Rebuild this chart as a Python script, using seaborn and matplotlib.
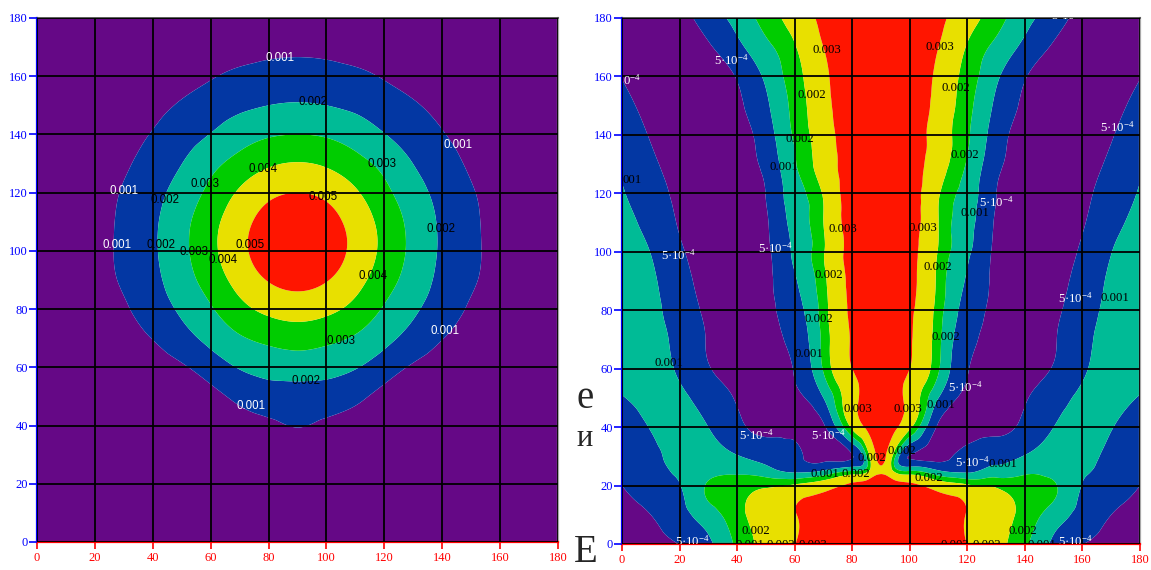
import numpy as np
import matplotlib
matplotlib.use("Agg")
import matplotlib.pyplot as plt
import matplotlib.tri as mtri
import seaborn as sns

sns.set_theme(style="ticks")
plt.rcParams['font.family'] = ['Liberation Serif', 'DejaVu Serif']
plt.rcParams['mathtext.default'] = 'regular'

# ---------------- data (field values in units of 1e-4) ----------------
x_left = [0, 10, 20, 30, 40, 50, 60, 70, 80, 90, 100, 110, 120, 130, 140, 150, 160, 170, 180]
y_left = [0, 10, 20, 30, 40, 50, 60, 70, 80, 90, 100, 110, 120, 130, 140, 150, 160, 170, 180]
z_left = [
    [1.1, 1.3, 1.4, 1.6, 1.8, 2.0, 2.2, 2.3, 2.5, 2.5, 2.5, 2.3, 2.2, 2.0, 1.8, 1.6, 1.4, 1.3, 1.1],
    [1.2, 1.4, 1.7, 1.9, 2.2, 2.5, 2.8, 3.0, 3.2, 3.3, 3.2, 3.0, 2.8, 2.5, 2.2, 1.9, 1.7, 1.4, 1.2],
    [1.3, 1.6, 1.9, 2.3, 2.7, 3.1, 3.5, 3.9, 4.2, 4.3, 4.2, 3.9, 3.5, 3.1, 2.7, 2.3, 1.9, 1.6, 1.3],
    [1.4, 1.8, 2.2, 2.7, 3.3, 3.9, 4.5, 5.2, 5.8, 6.5, 5.8, 5.2, 4.5, 3.9, 3.3, 2.7, 2.2, 1.8, 1.4],
    [1.5, 1.9, 2.3, 2.7, 3.1, 3.6, 4.4, 6.6, 8.5, 10.3, 8.5, 6.6, 4.4, 3.6, 3.1, 2.7, 2.3, 1.9, 1.5],
    [1.8, 2.2, 2.6, 3.0, 3.5, 4.6, 7.2, 12.4, 15.4, 15.9, 15.4, 12.4, 7.2, 4.6, 3.5, 3.0, 2.6, 2.2, 1.8],
    [2.0, 2.7, 3.2, 4.4, 6.0, 8.9, 14.7, 20.6, 23.4, 24.5, 23.4, 20.6, 14.7, 8.9, 6.0, 4.4, 3.2, 2.7, 2.0],
    [2.5, 3.5, 4.6, 6.7, 10.3, 16.3, 22.9, 28.9, 32.5, 34.2, 32.5, 28.9, 22.9, 16.3, 10.3, 6.7, 4.6, 3.5, 2.5],
    [2.8, 4.0, 5.8, 8.9, 14.9, 21.6, 29.0, 37.0, 42.4, 44.5, 42.4, 37.0, 29.0, 21.6, 14.9, 8.9, 5.8, 4.0, 2.8],
    [3.0, 4.5, 6.8, 11.2, 17.5, 25.5, 34.4, 43.6, 50.5, 53.0, 50.5, 43.6, 34.4, 25.5, 17.5, 11.2, 6.8, 4.5, 3.0],
    [3.1, 4.6, 7.0, 12.0, 18.6, 27.4, 37.4, 47.3, 54.8, 57.6, 54.8, 47.3, 37.4, 27.4, 18.6, 12.0, 7.0, 4.6, 3.1],
    [3.1, 4.6, 6.9, 11.8, 18.4, 26.9, 36.6, 46.3, 53.5, 56.2, 53.5, 46.3, 36.6, 26.9, 18.4, 11.8, 6.9, 4.6, 3.1],
    [3.0, 4.4, 6.5, 10.8, 16.8, 24.0, 32.5, 41.3, 47.8, 50.0, 47.8, 41.3, 32.5, 24.0, 16.8, 10.8, 6.5, 4.4, 3.0],
    [2.7, 3.9, 5.7, 8.7, 14.0, 19.9, 27.1, 33.5, 38.6, 40.5, 38.6, 33.5, 27.1, 19.9, 14.0, 8.7, 5.7, 3.9, 2.7],
    [2.4, 3.3, 4.8, 6.9, 10.6, 15.6, 20.3, 25.4, 28.9, 30.0, 28.9, 25.4, 20.3, 15.6, 10.6, 6.9, 4.8, 3.3, 2.4],
    [2.1, 2.8, 3.9, 5.4, 7.6, 11.0, 14.8, 18.0, 20.0, 20.8, 20.0, 18.0, 14.8, 11.0, 7.6, 5.4, 3.9, 2.8, 2.1],
    [1.8, 2.4, 3.1, 4.3, 5.6, 6.9, 9.3, 11.8, 13.3, 14.0, 13.3, 11.8, 9.3, 6.9, 5.6, 4.3, 3.1, 2.4, 1.8],
    [1.5, 1.9, 2.4, 3.1, 3.9, 4.9, 6.1, 7.0, 7.9, 8.2, 7.9, 7.0, 6.1, 4.9, 3.9, 3.1, 2.4, 1.9, 1.5],
    [1.2, 1.5, 1.9, 2.4, 2.9, 3.5, 4.2, 4.7, 5.1, 5.3, 5.1, 4.7, 4.2, 3.5, 2.9, 2.4, 1.9, 1.5, 1.2],
]
levels_left = [10, 20, 30, 40, 50]

x_right = [0, 10, 20, 30, 40, 50, 60, 70, 80, 85, 90, 95, 100, 110, 120, 130, 140, 150, 160, 170, 180]
y_right = [0, 10, 20, 25, 30, 40, 50, 60, 70, 80, 90, 100, 110, 120, 130, 140, 150, 160, 170, 180]
z_right = [
    [2.5, 3.5, 5.1, 9.0, 16.0, 22.5, 29.8, 35.0, 38.0, 39.0, 39.5, 39.0, 38.0, 35.0, 29.8, 22.5, 16.0, 9.0, 5.1, 3.5, 2.5],
    [3.0, 5.0, 8.2, 12.8, 18.1, 23.6, 29.5, 35.0, 38.0, 39.0, 39.5, 39.0, 38.0, 35.0, 29.5, 23.6, 18.1, 12.8, 8.2, 5.0, 3.0],
    [5.0, 7.4, 9.8, 15.5, 17.2, 19.0, 21.0, 25.0, 33.0, 36.0, 38.0, 36.0, 33.0, 25.0, 21.0, 19.0, 17.2, 15.5, 9.8, 7.4, 5.0],
    [6.5, 8.3, 11.0, 13.5, 14.0, 12.0, 9.0, 10.5, 15.0, 18.0, 29.0, 18.0, 15.0, 10.5, 9.0, 12.0, 14.0, 13.5, 11.0, 8.3, 6.5],
    [7.5, 9.0, 11.5, 12.0, 10.3, 8.2, 6.1, 3.5, 4.8, 15.0, 33.0, 15.0, 4.8, 3.5, 6.1, 8.2, 10.3, 12.0, 11.5, 9.0, 7.5],
    [7.5, 10.2, 11.5, 10.0, 6.2, 3.8, 2.8, 4.2, 21.7, 31.5, 35.0, 31.5, 21.7, 4.2, 2.8, 3.8, 6.2, 10.0, 11.5, 10.2, 7.5],
    [9.6, 11.8, 11.0, 7.9, 4.6, 3.0, 3.8, 10.0, 26.4, 33.0, 34.5, 33.0, 26.4, 10.0, 3.8, 3.0, 4.6, 7.9, 11.0, 11.8, 9.6],
    [13.0, 12.3, 9.2, 5.3, 3.3, 3.2, 5.3, 15.5, 30.0, 33.0, 34.0, 33.0, 30.0, 15.5, 5.3, 3.2, 3.3, 5.3, 9.2, 12.3, 13.0],
    [13.3, 12.0, 8.4, 4.7, 3.1, 3.4, 6.6, 16.4, 30.9, 33.5, 34.0, 33.5, 30.9, 16.4, 6.6, 3.4, 3.1, 4.7, 8.4, 12.0, 13.3],
    [13.0, 11.4, 7.5, 4.3, 2.8, 3.6, 8.1, 17.4, 31.7, 34.0, 34.5, 34.0, 31.7, 17.4, 8.1, 3.6, 2.8, 4.3, 7.5, 11.4, 13.0],
    [12.7, 10.8, 6.7, 3.8, 2.7, 3.8, 9.5, 18.4, 32.5, 34.5, 35.0, 34.5, 32.5, 18.4, 9.5, 3.8, 2.7, 3.8, 6.7, 10.8, 12.7],
    [12.3, 9.9, 5.7, 3.3, 2.6, 4.0, 10.9, 19.5, 33.3, 35.0, 35.5, 35.0, 33.3, 19.5, 10.9, 4.0, 2.6, 3.3, 5.7, 9.9, 12.3],
    [11.5, 8.4, 4.6, 2.9, 2.6, 4.4, 11.8, 20.0, 34.3, 36.0, 36.5, 36.0, 34.3, 20.0, 11.8, 4.4, 2.6, 2.9, 4.6, 8.4, 11.5],
    [10.4, 7.0, 4.0, 2.6, 2.8, 5.1, 12.8, 20.7, 35.0, 36.5, 37.0, 36.5, 35.0, 20.7, 12.8, 5.1, 2.8, 2.6, 4.0, 7.0, 10.4],
    [9.2, 5.8, 3.4, 2.4, 3.0, 6.4, 14.5, 23.9, 34.8, 36.5, 37.0, 36.5, 34.8, 23.9, 14.5, 6.4, 3.0, 2.4, 3.4, 5.8, 9.2],
    [7.7, 4.7, 2.8, 2.4, 3.3, 7.6, 15.7, 24.9, 35.8, 37.5, 38.0, 37.5, 35.8, 24.9, 15.7, 7.6, 3.3, 2.4, 2.8, 4.7, 7.7],
    [6.2, 3.8, 2.5, 2.6, 4.2, 9.1, 16.6, 26.2, 37.0, 38.5, 39.0, 38.5, 37.0, 26.2, 16.6, 9.1, 4.2, 2.6, 2.5, 3.8, 6.2],
    [4.9, 3.2, 2.5, 3.0, 5.3, 10.9, 17.7, 27.4, 38.0, 39.5, 40.0, 39.5, 38.0, 27.4, 17.7, 10.9, 5.3, 3.0, 2.5, 3.2, 4.9],
    [4.2, 3.0, 2.8, 4.5, 8.6, 13.8, 19.5, 30.0, 37.5, 39.0, 40.0, 39.0, 37.5, 30.0, 19.5, 13.8, 8.6, 4.5, 2.8, 3.0, 4.2],
    [3.5, 3.0, 3.6, 7.2, 11.8, 16.9, 23.5, 32.5, 38.0, 40.0, 41.0, 40.0, 38.0, 32.5, 23.5, 16.9, 11.8, 7.2, 3.6, 3.0, 3.5],
]
levels_right = [5, 10, 15, 20, 30]

band_colors = ['#650886', '#0337A3', '#00BB96', '#00CC00', '#E8E000', '#FF1500']

ticks = [0, 20, 40, 60, 80, 100, 120, 140, 160, 180]

# contour labels (x, y, text, color)
labels_left = [
    (84.1, 166.3, '0.001', 'white'), (145.4, 136.4, '0.001', 'white'), (30.1, 120.7, '0.001', 'white'),
    (27.7, 102.0, '0.001', 'white'), (140.9, 72.5, '0.001', 'white'), (74.1, 46.7, '0.001', 'white'),
    (95.2, 151.3, '0.002', 'black'), (44.3, 117.5, '0.002', 'black'), (42.9, 102.0, '0.002', 'black'),
    (139.5, 107.5, '0.002', 'black'), (93.1, 55.3, '0.002', 'black'),
    (58.2, 123.0, '0.003', 'black'), (54.2, 99.6, '0.003', 'black'), (119.1, 129.9, '0.003', 'black'),
    (105.2, 69.2, '0.003', 'black'),
    (78.2, 128.1, '0.004', 'black'), (64.4, 96.9, '0.004', 'black'), (116.0, 91.4, '0.004', 'black'),
    (99.0, 118.5, '0.005', 'black'), (73.7, 102.0, '0.005', 'black'),
]
S4 = r'5·10$^{\mathregular{-4}}$'
labels_right = [
    (37.9, 165.6, S4, 'white'), (19.5, 98.9, S4, 'white'),
    (53.2, 101.3, S4, 'white'), (172.3, 142.7, S4, 'white'), (130.0, 117.0, S4, 'white'),
    (155.0, 181.0, S4, 'white'), (157.4, 84.2, S4, 'white'), (119.5, 53.6, S4, 'white'),
    (121.6, 28.1, S4, 'white'), (46.6, 37.3, S4, 'white'), (71.6, 37.3, S4, 'white'),
    (24.3, 1.0, S4, 'white'), (157.5, 1.0, S4, 'white'),
    (56.2, 129.0, '0.001', 'black'), (122.7, 113.3, '0.001', 'black'),
    (16.3, 62.0, '0.001', 'black'), (65.0, 65.0, '0.001', 'black'), (111.0, 47.6, '0.001', 'black'),
    (171.3, 84.2, '0.001', 'black'), (132.4, 27.4, '0.001', 'black'), (70.5, 23.9, '0.001', 'black'),
    (44.5, -0.3, '0.001', 'black'), (146.0, -0.3, '0.001', 'black'), (142.5, 181.0, '0.001', 'black'),
    (66.0, 153.7, '0.002', 'black'), (61.8, 138.6, '0.002', 'black'), (71.9, 92.1, '0.002', 'black'),
    (116.0, 156.0, '0.002', 'black'), (119.2, 133.1, '0.002', 'black'), (109.8, 94.8, '0.002', 'black'),
    (68.5, 77.0, '0.002', 'black'), (112.6, 70.8, '0.002', 'black'), (86.9, 29.4, '0.002', 'black'),
    (97.3, 31.8, '0.002', 'black'), (106.7, 22.6, '0.002', 'black'), (81.3, 23.9, '0.002', 'black'),
    (46.5, 4.6, '0.002', 'black'), (139.4, 4.6, '0.002', 'black'), (55.3, -0.3, '0.002', 'black'),
    (126.8, -0.3, '0.002', 'black'),
    (71.2, 169.0, '0.003', 'black'), (110.5, 170.0, '0.003', 'black'), (76.8, 107.8, '0.003', 'black'),
    (104.6, 108.1, '0.003', 'black'), (82.0, 46.2, '0.003', 'black'), (99.4, 46.2, '0.003', 'black'),
    (66.4, -0.3, '0.003', 'black'), (115.6, -0.3, '0.003', 'black'),
]
# label fragments cut by the left frame of the right panel
labels_right_edge = [
    (0.2, 158.8, r'0$^{\mathregular{-4}}$', 'white'),
    (0.2, 124.6, '001', 'black'),
]

W, H = 1151, 570
fig = plt.figure(figsize=(W / 100, H / 100), dpi=100)
fig.patch.set_facecolor('white')
axL = fig.add_axes([37 / W, 28 / H, 521 / W, 524 / H])
axR = fig.add_axes([622 / W, 26 / H, 518 / W, 526 / H])


def smooth_field(x, y, z):
    X, Y = np.meshgrid(np.asarray(x, float), np.asarray(y, float))
    Z = np.asarray(z, float)
    tri = mtri.Triangulation(X.ravel(), Y.ravel())
    interp = mtri.CubicTriInterpolator(tri, Z.ravel(), kind='min_E')
    refiner = mtri.UniformTriRefiner(tri)
    return refiner.refine_field(Z.ravel(), triinterpolator=interp, subdiv=4)


def draw(ax, x, y, z, levels):
    tri_f, z_f = smooth_field(x, y, z)
    lv = [-1e6] + list(levels) + [1e6]
    ax.tricontourf(tri_f, z_f, levels=lv, colors=band_colors, antialiased=True)
    ax.set_xlim(0, 180)
    ax.set_ylim(0, 180)
    ax.set_xticks(ticks)
    ax.set_yticks(ticks)
    ax.grid(True, color='black', linewidth=1.3)
    ax.set_axisbelow(False)
    for s in ['left', 'bottom', 'top', 'right']:
        ax.spines[s].set_visible(True)
    ax.spines['left'].set_color('#0000ff')
    ax.spines['left'].set_linewidth(1.6)
    ax.spines['bottom'].set_color('#ff0000')
    ax.spines['bottom'].set_linewidth(1.6)
    ax.spines['top'].set_color('#404040')
    ax.spines['top'].set_linewidth(1.2)
    ax.spines['right'].set_color('#a8a8a8')
    ax.spines['right'].set_linewidth(1.6)
    ax.tick_params(axis='y', left=True, colors='#0000ff', direction='out', length=6, width=1.2,
                   labelsize=9, pad=0.5)
    ax.tick_params(axis='x', bottom=True, colors='#ff0000', direction='out', length=5, width=1.2,
                   labelsize=9, pad=2.5)
    for lab in ax.get_xticklabels() + ax.get_yticklabels():
        lab.set_family('Liberation Serif')


draw(axL, x_left, y_left, z_left, levels_left)
draw(axR, x_right, y_right, z_right, levels_right)

for (x, y, t, c) in labels_left:
    axL.text(x, y, t, color=c, fontsize=8.3, family='Liberation Sans', ha='center', va='center',
             clip_on=True, zorder=5)
for (x, y, t, c) in labels_right:
    axR.text(x, y, t, color=c, fontsize=9.2, family='Liberation Serif', ha='center', va='center',
             clip_on=True, zorder=5)
for (x, y, t, c) in labels_right_edge:
    axR.text(x, y, t, color=c, fontsize=9.2, family='Liberation Serif', ha='left', va='center',
             clip_on=True, zorder=5)

# stray fragments of surrounding document text
fig.text(585 / W, 1 - 398 / H, 'е', fontsize=28, family='Liberation Serif', ha='center', va='center')
fig.text(585 / W, 1 - 438 / H, 'и', fontsize=22, family='Liberation Serif', ha='center', va='center')
fig.text(586 / W, 1 - 553 / H, 'Е', fontsize=28, family='Liberation Serif', ha='center', va='center')

fig.savefig('out.png', dpi=100, facecolor='white')
